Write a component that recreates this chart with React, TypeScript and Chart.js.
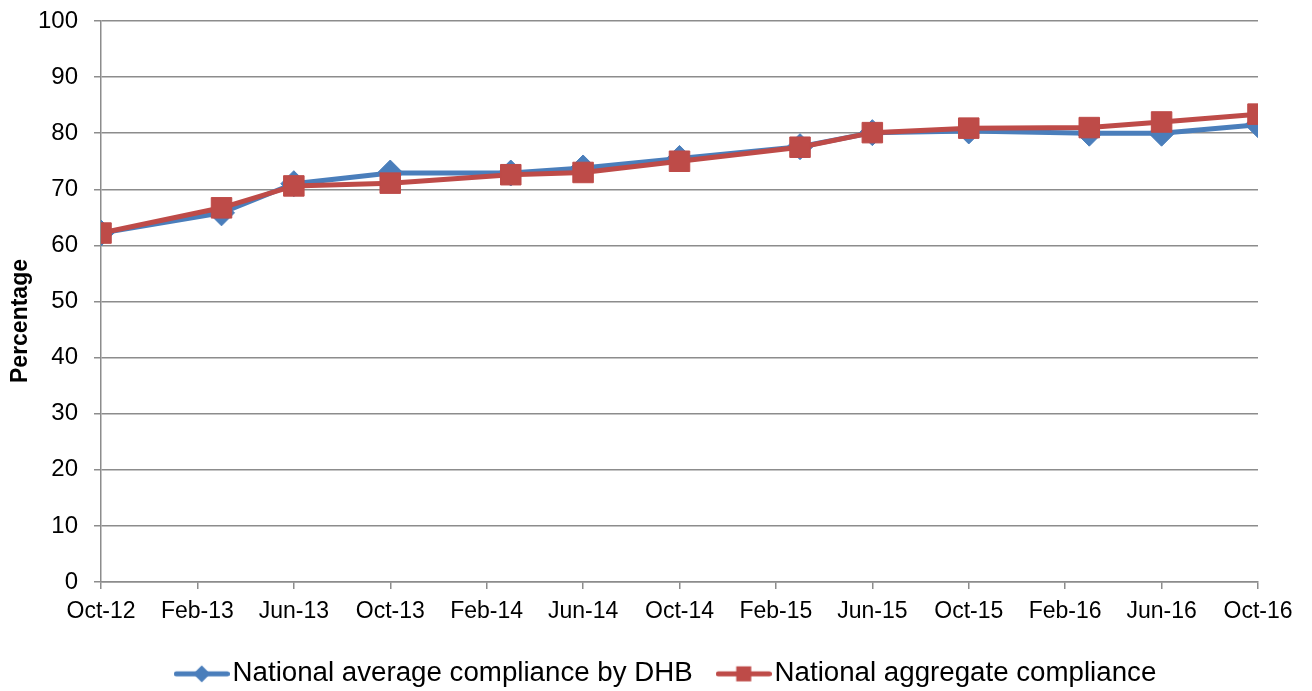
import React, { useEffect, useRef } from 'react';
import { Chart, registerables } from 'chart.js';

Chart.register(...registerables);

// Tick labels of the date axis (every 4 months)
const tickLabels = ['Oct-12', 'Feb-13', 'Jun-13', 'Oct-13', 'Feb-14', 'Jun-14', 'Oct-14', 'Feb-15', 'Jun-15', 'Oct-15', 'Feb-16', 'Jun-16', 'Oct-16'];
// Measurement dates, as months after Oct-12
const monthOffsets = [0, 5, 8, 12, 17, 20, 24, 29, 32, 36, 41, 44, 48];
const dhbAverage = [62.2, 65.8, 71.0, 72.9, 72.9, 73.8, 75.5, 77.6, 80.1, 80.4, 80.0, 80.0, 81.5];
const aggregateCompliance = [62.2, 66.7, 70.6, 71.1, 72.6, 73.0, 75.0, 77.5, 80.1, 80.9, 81.0, 82.0, 83.4];
const seriesNames = ['National average compliance by DHB', 'National aggregate compliance'];
const yAxisTitle = 'Percentage';

const BLUE = '#4A7EBB';
const RED = '#BE4B48';
const GRID = '#8C8C8C';
const FONT = "'Liberation Sans', Arial, sans-serif";

function legendIcon(color: string, shape: 'diamond' | 'square', width: number): HTMLCanvasElement {
  const c = document.createElement('canvas');
  c.width = width;
  c.height = 20;
  const ctx = c.getContext('2d')!;
  ctx.strokeStyle = color;
  ctx.lineWidth = 5;
  ctx.lineCap = 'round';
  ctx.beginPath();
  ctx.moveTo(2.5, 10);
  ctx.lineTo(width - 2.5, 10);
  ctx.stroke();
  ctx.fillStyle = color;
  const cx = width / 2;
  if (shape === 'diamond') {
    ctx.beginPath();
    ctx.moveTo(cx, 1.5);
    ctx.lineTo(cx + 8.5, 10);
    ctx.lineTo(cx, 18.5);
    ctx.lineTo(cx - 8.5, 10);
    ctx.closePath();
    ctx.fill();
  } else {
    ctx.fillRect(cx - 7.5, 2.5, 15, 15);
  }
  return c;
}

export default function App() {
  const canvasRef = useRef<HTMLCanvasElement | null>(null);

  useEffect(() => {
    if (!canvasRef.current) return;
    const blueIcon = legendIcon(BLUE, 'diamond', 56);
    const redIcon = legendIcon(RED, 'square', 56);

    const shiftLegend = {
      id: 'shiftLegend',
      afterLayout(chart: any) {
        const lg = chart.legend;
        if (!lg) return;
        const w = lg.right - lg.left;
        const cx = 670.5;
        lg.left = cx - w / 2;
        lg.right = cx + w / 2;
        const h = lg.bottom - lg.top;
        const top = 626;
        lg.top = top;
        lg.bottom = top + h;
      },
    };

    const yTitle = {
      id: 'yTitle',
      afterDraw(chart: any) {
        const ctx = chart.ctx;
        ctx.save();
        ctx.translate(21, 321);
        ctx.rotate(-Math.PI / 2);
        ctx.fillStyle = '#000';
        ctx.font = `bold 23px ${FONT}`;
        ctx.textAlign = 'center';
        ctx.textBaseline = 'middle';
        ctx.fillText(yAxisTitle, 0, 0);
        ctx.restore();
      },
    };

    const chart = new Chart(canvasRef.current, {
      type: 'line',
      data: {
        datasets: [
          {
            label: seriesNames[0],
            data: monthOffsets.map((m, i) => ({ x: m, y: dhbAverage[i] })),
            borderColor: BLUE,
            backgroundColor: BLUE,
            borderWidth: 5,
            pointStyle: 'rectRot',
            pointRadius: 13,
            pointHoverRadius: 13,
            pointBorderWidth: 1,
            tension: 0,
            order: 1,
          },
          {
            label: seriesNames[1],
            data: monthOffsets.map((m, i) => ({ x: m, y: aggregateCompliance[i] })),
            borderColor: RED,
            backgroundColor: RED,
            borderWidth: 5,
            pointStyle: 'rect',
            pointRadius: 14.5,
            pointHoverRadius: 14.5,
            pointBorderWidth: 1,
            tension: 0,
            order: 0,
          },
        ],
      },
      options: {
        responsive: false,
        animation: false,
        devicePixelRatio: 1,
        layout: { padding: { left: 0, right: 54, top: 21, bottom: 0 } },
        scales: {
          x: {
            type: 'linear',
            min: 0,
            max: 48,
            afterFit(scale: any) {
              const lgH = scale.chart.legend ? scale.chart.legend.height : 0;
              scale.height = scale.chart.height - 582 - lgH;
            },
            ticks: {
              stepSize: 4,
              autoSkip: false,
              maxRotation: 0,
              padding: 9,
              color: '#000',
              font: { family: FONT, size: 23 },
              callback: (_v: any, i: number) => tickLabels[i],
            },
            grid: { drawOnChartArea: false, drawTicks: true, tickLength: 7, color: GRID, lineWidth: 1.5 },
            border: { color: GRID, width: 1.5 },
          },
          y: {
            min: 0,
            max: 100,
            afterFit(scale: any) {
              scale.width = 101;
              scale.paddingTop = 0;
              scale.paddingBottom = 0;
            },
            ticks: {
              stepSize: 10,
              padding: 16,
              color: '#000',
              font: { family: FONT, size: 24 },
            },
            grid: { drawTicks: true, tickLength: 7, color: GRID, lineWidth: 1.5 },
            border: { color: GRID, width: 1.5 },
          },
        },
        plugins: {
          legend: {
            position: 'bottom',
            labels: {
              usePointStyle: true,
              pointStyleWidth: 34,
              padding: 34,
              color: '#000',
              font: { family: FONT, size: 27.7 },
              generateLabels: () => [
                { text: seriesNames[0], pointStyle: blueIcon as any, fillStyle: BLUE, strokeStyle: BLUE, lineWidth: 0, datasetIndex: 0, hidden: false },
                { text: seriesNames[1], pointStyle: redIcon as any, fillStyle: RED, strokeStyle: RED, lineWidth: 0, datasetIndex: 1, hidden: false },
              ],
            },
          },
          tooltip: { enabled: false },
        },
      },
      plugins: [shiftLegend, yTitle],
    } as any);

    return () => chart.destroy();
  }, []);

  return (
    <div style={{ position: 'fixed', left: 0, top: 0, width: 1312, height: 691, background: '#fff' }}>
      <canvas ref={canvasRef} width={1312} height={691} />
    </div>
  );
}
